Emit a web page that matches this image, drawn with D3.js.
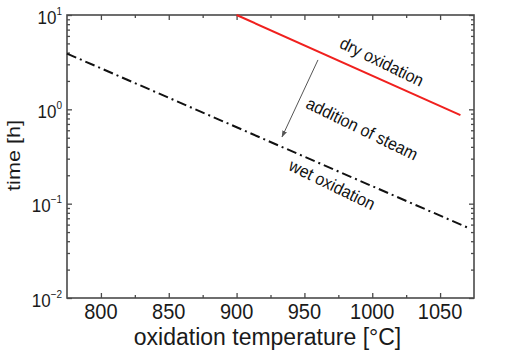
<!DOCTYPE html>
<html><head><meta charset="utf-8">
<script src="https://cdnjs.cloudflare.com/ajax/libs/d3/7.8.5/d3.min.js"></script>
<style>body{margin:0;background:#fff}svg{display:block;font-family:"Liberation Sans",Arial,sans-serif}</style>
</head><body><svg id="c" width="515" height="355"></svg>
<script>
// ---- data ----
const tempTicks = [800, 850, 900, 950, 1000, 1050];
const tempMinor = [825, 875, 925, 975, 1025];
const timeTicks = [0.01, 0.1, 1, 10];
const timeExp = ["\u22122", "\u22121", "0", "1"];
const dryT = [900, 1065];
const dryH = [10, 0.87];
const wetT = [775, 1070];
const wetH = [3.9, 0.056];
const arrowT = [960, 933.5];
const arrowH = [3.34, 0.51];
const labelText = ["dry oxidation", "addition of steam", "wet oxidation"];
const labelT = [1007, 992.4, 970.3];
const labelH = [3.18, 0.619, 0.158];

const svg = d3.select("#c");
const L = 67, R = 474, T = 15, B = 298;
const x = d3.scaleLinear().domain([775, 1075]).range([L, R]);
const y = d3.scaleLog().domain([0.01, 10]).range([B, T]);
const axisCol = "#4a4a4a";
const SY = 1.1;

// minor log ticks
const minorLog = [];
[0.01, 0.1, 1].forEach(d => { for (let k = 2; k <= 9; k++) minorLog.push(d * k); });

function styleAxis(g) {
  g.select(".domain").remove();
  g.selectAll(".tick line").attr("stroke", axisCol).attr("stroke-width", 1.3);
  g.selectAll("text").remove();
}
// bottom
svg.append("g").attr("transform", `translate(0,${B})`)
  .call(d3.axisBottom(x).tickValues(tempTicks).tickSize(-5).tickFormat("")).call(styleAxis);
svg.append("g").attr("transform", `translate(0,${B})`)
  .call(d3.axisBottom(x).tickValues(tempMinor).tickSize(-3).tickFormat("")).call(styleAxis);
// top
svg.append("g").attr("transform", `translate(0,${T})`)
  .call(d3.axisTop(x).tickValues(tempTicks).tickSize(-5).tickFormat("")).call(styleAxis);
svg.append("g").attr("transform", `translate(0,${T})`)
  .call(d3.axisTop(x).tickValues(tempMinor).tickSize(-3).tickFormat("")).call(styleAxis);
// left
svg.append("g").attr("transform", `translate(${L},0)`)
  .call(d3.axisLeft(y).tickValues(timeTicks).tickSize(-5).tickFormat("")).call(styleAxis);
svg.append("g").attr("transform", `translate(${L},0)`)
  .call(d3.axisLeft(y).tickValues(minorLog).tickSize(-3).tickFormat("")).call(styleAxis);
// right
svg.append("g").attr("transform", `translate(${R},0)`)
  .call(d3.axisRight(y).tickValues(timeTicks).tickSize(-5).tickFormat("")).call(styleAxis);
svg.append("g").attr("transform", `translate(${R},0)`)
  .call(d3.axisRight(y).tickValues(minorLog).tickSize(-3).tickFormat("")).call(styleAxis);

// frame
svg.append("rect").attr("x", L).attr("y", T).attr("width", R - L).attr("height", B - T)
  .attr("fill", "none").attr("stroke", axisCol).attr("stroke-width", 1.6);

// lines
const line = d3.line().x(d => x(d[0])).y(d => y(d[1]));
svg.append("path").datum(dryT.map((t, i) => [t, dryH[i]])).attr("d", line)
  .attr("fill", "none").attr("stroke", "#f0201e").attr("stroke-width", 2);
svg.append("path").datum(wetT.map((t, i) => [t, wetH[i]])).attr("d", line)
  .attr("fill", "none").attr("stroke", "#111").attr("stroke-width", 2)
  .attr("stroke-dasharray", "10,4,2,4");

// arrow
svg.append("defs").append("marker").attr("id", "ah").attr("viewBox", "0 0 10 10")
  .attr("refX", 9).attr("refY", 5).attr("markerWidth", 7).attr("markerHeight", 7)
  .attr("orient", "auto").append("path").attr("d", "M0,1.5 L10,5 L0,8.5 Z").attr("fill", "#555");
svg.append("line")
  .attr("x1", x(arrowT[0])).attr("y1", y(arrowH[0]))
  .attr("x2", x(arrowT[1])).attr("y2", y(arrowH[1]))
  .attr("stroke", "#555").attr("stroke-width", 1).attr("marker-end", "url(#ah)");

// in-plot labels
labelText.forEach((t, i) => {
  svg.append("text")
    .attr("transform", `translate(${x(labelT[i])},${y(labelH[i])}) rotate(26) scale(1,1.08)`)
    .attr("text-anchor", "middle").attr("dominant-baseline", "central")
    .attr("font-size", 16).attr("fill", "#111").text(t);
});

// x tick labels
tempTicks.forEach(v => {
  svg.append("text").attr("transform", `translate(${x(v)},319) scale(1,${SY})`)
    .attr("text-anchor", "middle").attr("font-size", 20).attr("fill", "#1a1a1a").text(v);
});
// y tick labels
timeTicks.forEach((v, i) => {
  const t = svg.append("text").attr("transform", `translate(62,${y(v) + 8.5}) scale(1,${SY})`)
    .attr("text-anchor", "end").attr("font-size", 17).attr("fill", "#1a1a1a");
  t.append("tspan").text("10");
  t.append("tspan").attr("font-size", 10).attr("dy", -8).text(timeExp[i]);
});

// axis titles
svg.append("text").attr("transform", `translate(${(L + R) / 2 - 3},345)`)
  .attr("text-anchor", "middle").attr("font-size", 23).attr("fill", "#1a1a1a")
  .text("oxidation temperature [°C]");
svg.append("text").attr("transform", `translate(20,${(T + B) / 2 - 1}) rotate(-90) scale(1.2,1)`)
  .attr("text-anchor", "middle").attr("font-size", 18).attr("fill", "#1a1a1a")
  .text("time [h]");
</script></body></html>
